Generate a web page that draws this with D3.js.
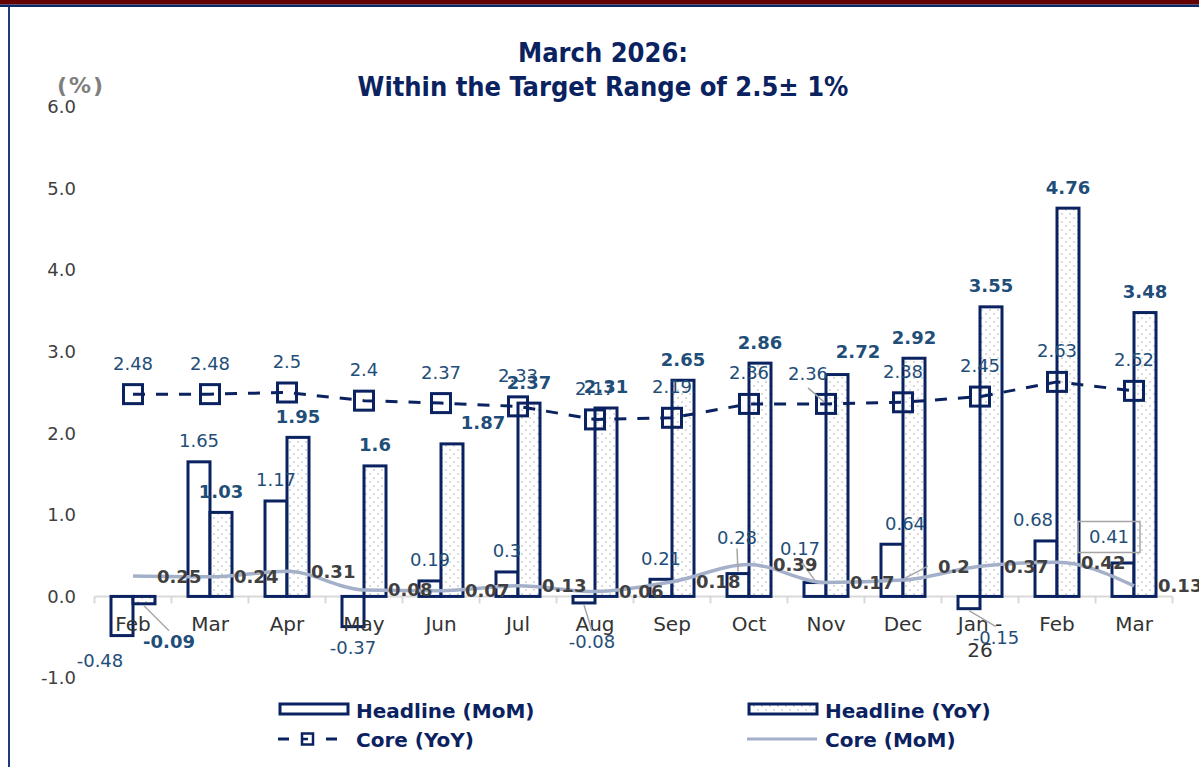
<!DOCTYPE html>
<html lang="en">
<head>
<meta charset="UTF-8">
<title>March 2026: Within the Target Range</title>
<script src="https://d3js.org/d3.v7.min.js"></script>
<style>
  body { margin: 0; background: #fff; }
  svg { display: block; font-family: "DejaVu Sans", Verdana, sans-serif; }
</style>
</head>
<body>
<script>
// x axis months (last year Feb .. this year Mar)
var months = ["Feb", "Mar", "Apr", "May", "Jun", "Jul", "Aug", "Sep", "Oct", "Nov", "Dec", "Jan -|26", "Feb", "Mar"];
var headlineMoM = [-0.48, 1.65, 1.17, -0.37, 0.19, 0.3, -0.08, 0.21, 0.28, 0.17, 0.64, -0.15, 0.68, 0.41];
var headlineYoY = [-0.09, 1.03, 1.95, 1.6, 1.87, 2.37, 2.31, 2.65, 2.86, 2.72, 2.92, 3.55, 4.76, 3.48];
var coreYoY = [2.48, 2.48, 2.5, 2.4, 2.37, 2.33, 2.17, 2.19, 2.36, 2.36, 2.38, 2.45, 2.63, 2.52];
var coreMoM = [0.25, 0.24, 0.31, 0.08, 0.07, 0.13, 0.06, 0.18, 0.39, 0.17, 0.2, 0.37, 0.42, 0.13];
var yTicks = [-1, 0, 1, 2, 3, 4, 5, 6];

var w = 1199, h = 767;
var navy = "#0a2260";
var labelBlue = "#1f4e79";
var darkGray = "#404040";
var coreLight = "#a4b0ca";
var leaderGray = "#a6a6a6";

var svg = d3.select("body").append("svg")
  .attr("width", w)
  .attr("height", h);

// dotted fill for the YoY bars
var defs = svg.append("defs");
var pat = defs.append("pattern")
  .attr("id", "dots")
  .attr("patternUnits", "userSpaceOnUse")
  .attr("width", 8).attr("height", 8);
pat.append("rect").attr("width", 8).attr("height", 8).attr("fill", "#fff");
pat.append("circle").attr("cx", 2).attr("cy", 2).attr("r", 1).attr("fill", "#cfcfcf");
pat.append("circle").attr("cx", 6).attr("cy", 6).attr("r", 1).attr("fill", "#cfcfcf");

// frame: red band on top, navy rule, navy left edge
svg.append("rect").attr("x", 0).attr("y", 0).attr("width", w).attr("height", 4.5).attr("fill", "#640000");
svg.append("rect").attr("x", 0).attr("y", 4.5).attr("width", w).attr("height", 2.5).attr("fill", "#0e2a66");
svg.append("rect").attr("x", 8).attr("y", 7).attr("width", 2).attr("height", h - 7).attr("fill", "#1d3a7a");

// scales
var idx = d3.range(months.length);
var x = d3.scaleBand().domain(idx).range([94.5, 1172.5]);
var sub = d3.scaleBand().domain(["mom", "yoy"]).range([16.5, 60.5]);
var y = d3.scaleLinear().domain([-1, 6]).range([678, 107]);
var cx = function(i) { return x(i) + x.bandwidth() / 2; };

// title
var title = svg.append("text")
  .attr("text-anchor", "middle")
  .attr("fill", navy)
  .attr("font-family", "'DejaVu Sans Condensed', 'DejaVu Sans', sans-serif")
  .attr("font-stretch", "condensed")
  .attr("font-weight", "bold")
  .attr("font-size", 27);
title.append("tspan").attr("x", 603).attr("y", 62).text("March 2026:");
title.append("tspan").attr("x", 603).attr("y", 96).text("Within the Target Range of 2.5\u00b1 1%");

svg.append("text")
  .attr("x", 57).attr("y", 93)
  .attr("fill", "#7f7f7f")
  .attr("font-weight", "bold")
  .attr("font-size", 22)
  .attr("letter-spacing", 2)
  .text("(%)");

// y axis (labels only)
var yAxis = d3.axisLeft(y)
  .tickValues(yTicks)
  .tickSize(0)
  .tickPadding(0)
  .tickFormat(function(d) { return d.toFixed(1); });
var gy = svg.append("g")
  .attr("transform", "translate(76,0)")
  .call(yAxis);
gy.select(".domain").remove();
gy.selectAll("text")
  .attr("font-family", "DejaVu Sans, sans-serif")
  .attr("font-size", 18)
  .attr("fill", darkGray);

// x axis line with ticks on category boundaries
var y0 = y(0);
var xr = x.range();
svg.append("line")
  .attr("x1", xr[0]).attr("x2", xr[1])
  .attr("y1", y0).attr("y2", y0)
  .attr("stroke", "#d9d9d9").attr("stroke-width", 2);
svg.selectAll(".xtick")
  .data(idx.map(function(i) { return x(i); }).concat([xr[1]]))
  .enter().append("line")
  .attr("class", "xtick")
  .attr("x1", function(d) { return d; }).attr("x2", function(d) { return d; })
  .attr("y1", y0).attr("y2", y0 + 7)
  .attr("stroke", "#d9d9d9").attr("stroke-width", 2);

// bars
function bars(values, key, fill) {
  svg.selectAll(".bar-" + key)
    .data(values)
    .enter().append("rect")
    .attr("class", "bar-" + key)
    .attr("x", function(d, i) { return x(i) + sub(key); })
    .attr("y", function(d) { return y(Math.max(0, d)); })
    .attr("width", sub.bandwidth())
    .attr("height", function(d) { return Math.abs(y(d) - y(0)); })
    .attr("fill", fill)
    .attr("stroke", navy)
    .attr("stroke-width", 3);
}
bars(headlineMoM, "mom", "#fff");
bars(headlineYoY, "yoy", "url(#dots)");

// x labels (drawn after bars, they sit on top like the original)
idx.forEach(function(i) {
  var parts = months[i].split("|");
  var t = svg.append("text")
    .attr("text-anchor", "middle")
    .attr("font-size", 20)
    .attr("fill", "#333");
  parts.forEach(function(p, k) {
    t.append("tspan").attr("x", cx(i)).attr("y", 631 + k * 26).text(p);
  });
});

// core MoM smooth line
var lineMoM = d3.line()
  .x(function(d, i) { return cx(i); })
  .y(function(d) { return y(d); })
  .curve(d3.curveMonotoneX);
svg.append("path")
  .datum(coreMoM)
  .attr("d", lineMoM)
  .attr("fill", "none")
  .attr("stroke", coreLight)
  .attr("stroke-width", 3.5);

// core YoY dashed line with square markers
var lineYoY = d3.line()
  .x(function(d, i) { return cx(i); })
  .y(function(d) { return y(d); });
svg.append("path")
  .datum(coreYoY)
  .attr("d", lineYoY)
  .attr("fill", "none")
  .attr("stroke", navy)
  .attr("stroke-width", 3)
  .attr("stroke-dasharray", "12,11");
svg.selectAll(".mark")
  .data(coreYoY)
  .enter().append("rect")
  .attr("class", "mark")
  .attr("x", function(d, i) { return cx(i) - 9.5; })
  .attr("y", function(d) { return y(d) - 9.5; })
  .attr("width", 19).attr("height", 19)
  .attr("fill", "none")
  .attr("stroke", navy)
  .attr("stroke-width", 3);

// data labels; a few are moved off their default spot as in the original
var nudge = {
  mom: { 0: [-22, 4], 6: [8, 18, 1], 8: [-1, -15, 1], 9: [-15, -13, 1], 10: [13, 0], 11: [27, 8, 1], 12: [-13, 0], 13: [-14, -5] },
  yoy: { 0: [25, 17, 1], 4: [31, 0], 9: [21, -2] },
  core: { 9: [-18, 1, 1] },
  coreMoM: { 10: [11, -14, 1] }
};

function label(txt, px, py, opts) {
  svg.append("text")
    .attr("x", px).attr("y", py)
    .attr("dy", "0.36em")
    .attr("text-anchor", opts.anchor || "middle")
    .attr("font-size", 18)
    .attr("font-weight", opts.bold ? "bold" : "normal")
    .attr("fill", opts.color)
    .text(txt);
}
function leader(x1, y1, x2, y2) {
  svg.append("line")
    .attr("x1", x1).attr("y1", y1).attr("x2", x2).attr("y2", y2)
    .attr("stroke", leaderGray).attr("stroke-width", 1.5);
}

function barLabels(values, key, bold) {
  values.forEach(function(v, i) {
    var bx = x(i) + sub(key) + sub.bandwidth() / 2;
    var edge = y(v);
    var by = v >= 0 ? edge - 21 : edge + 21;
    var n = nudge[key][i] || [0, 0];
    var lx = bx + n[0], ly = by + n[1];
    if (n[2]) {
      leader(bx, edge + (v >= 0 ? -2 : 2), lx, ly + (v >= 0 ? 11 : -11));
    }
    label(String(v), lx, ly, { bold: bold, color: labelBlue });
  });
}
barLabels(headlineMoM, "mom", false);
barLabels(headlineYoY, "yoy", true);

// latest MoM value sits in a small box
var last = headlineMoM.length - 1;
var bxl = x(last) + sub("mom") + sub.bandwidth() / 2 + nudge.mom[last][0];
var byl = y(headlineMoM[last]) - 21 + nudge.mom[last][1];
svg.append("rect")
  .attr("x", bxl - 31).attr("y", byl - 15.5)
  .attr("width", 62).attr("height", 31)
  .attr("fill", "none")
  .attr("stroke", "#a6a6a6")
  .attr("stroke-width", 1.5);

coreYoY.forEach(function(v, i) {
  var n = nudge.core[i] || [0, 0];
  var px = cx(i), py = y(v);
  if (n[2]) leader(px - 2, py - 2, px + n[0], py - 16);
  label(String(v), px + n[0], py - 31 + n[1], { color: labelBlue });
});

coreMoM.forEach(function(v, i) {
  var n = nudge.coreMoM[i] || [0, 0];
  var px = cx(i), py = y(v);
  if (n[2]) leader(px + 2, py - 2, px + 24 + n[0] - 10, py + n[1]);
  label(String(v), px + 24 + n[0], py + n[1], { bold: true, color: darkGray, anchor: "start" });
});

// legend
var lg = svg.append("g").attr("font-weight", "bold").attr("font-size", 20).attr("fill", navy);
lg.append("rect").attr("x", 280).attr("y", 704).attr("width", 68).attr("height", 10)
  .attr("fill", "#fff").attr("stroke", navy).attr("stroke-width", 3);
lg.append("text").attr("x", 356).attr("y", 718).text("Headline (MoM)");
lg.append("rect").attr("x", 749).attr("y", 704).attr("width", 68).attr("height", 10)
  .attr("fill", "url(#dots)").attr("stroke", navy).attr("stroke-width", 3);
lg.append("text").attr("x", 825).attr("y", 718).text("Headline (YoY)");
lg.append("line").attr("x1", 278).attr("x2", 338).attr("y1", 739).attr("y2", 739)
  .attr("stroke", navy).attr("stroke-width", 3).attr("stroke-dasharray", "11,13");
lg.append("rect").attr("x", 302).attr("y", 733.5).attr("width", 11).attr("height", 11)
  .attr("fill", "#fff").attr("stroke", navy).attr("stroke-width", 2.5);
lg.append("line").attr("x1", 302).attr("x2", 308).attr("y1", 739).attr("y2", 739)
  .attr("stroke", navy).attr("stroke-width", 2.5);
lg.append("text").attr("x", 356).attr("y", 747).text("Core (YoY)");
lg.append("line").attr("x1", 747).attr("x2", 817).attr("y1", 739).attr("y2", 739)
  .attr("stroke", coreLight).attr("stroke-width", 3);
lg.append("text").attr("x", 825).attr("y", 747).text("Core (MoM)");
</script>
</body>
</html>
